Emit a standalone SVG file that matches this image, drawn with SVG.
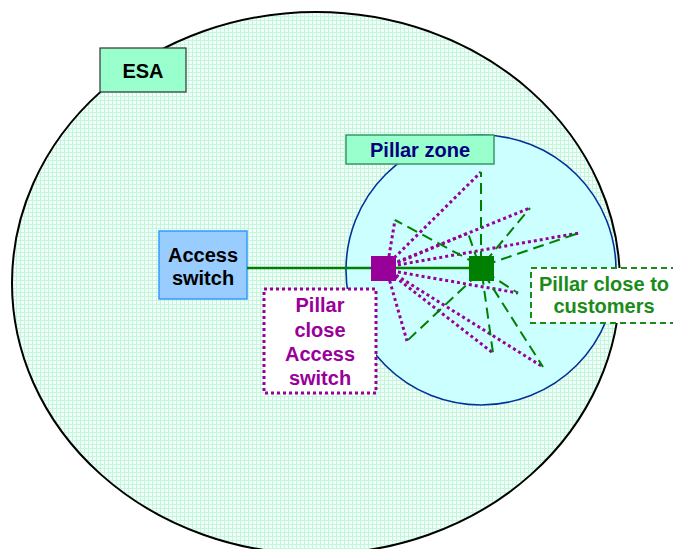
<svg xmlns="http://www.w3.org/2000/svg" width="673" height="549" viewBox="0 0 673 549">
  <defs>
    <pattern id="grid" width="4" height="4" patternUnits="userSpaceOnUse">
      <rect width="4" height="4" fill="#f2fff8"/>
      <path d="M0 0.5H4M0.5 0V4" stroke="#c4f6dd" stroke-width="1"/>
    </pattern>
    <style>
      text { font-family: "Liberation Sans", Arial, sans-serif; font-weight: bold; font-size: 20px; text-anchor: middle; }
      .dot { stroke: #990099; stroke-width: 3; stroke-dasharray: 3 3; fill: none; }
      .dash { stroke: #008000; stroke-width: 2; stroke-dasharray: 11 6; fill: none; }
    </style>
  </defs>
  <rect width="673" height="549" fill="#ffffff"/>

  <g id="esa-zone">
    <ellipse cx="316" cy="283" rx="304" ry="271" fill="url(#grid)" stroke="#000000" stroke-width="2"/>
  </g>
  <g id="esa-label">
    <rect x="100" y="48" width="86" height="44" fill="#99ffcc" stroke="#333333" stroke-width="1.2"/>
    <text x="143" y="78" fill="#000000">ESA</text>
  </g>

  <g id="pillar-zone">
    <circle cx="481" cy="270" r="135" fill="#ccffff" stroke="#003399" stroke-width="1.6"/>
  </g>
  <g id="pillar-zone-label">
    <rect x="346" y="135" width="148" height="29" fill="#99ffcc" stroke="#339966" stroke-width="1.5"/>
    <text x="420" y="157" fill="#000080">Pillar zone</text>
  </g>

  <g id="access-switch">
    <rect x="159" y="231" width="88" height="68" fill="#99ccff" stroke="#3399ff" stroke-width="1.5"/>
    <text x="203" y="262" fill="#000000">Access</text>
    <text x="203" y="285" fill="#000000">switch</text>
  </g>

  <g id="connectors">
    <line x1="247" y1="268" x2="481" y2="268" stroke="#008000" stroke-width="2.5"/>
    <line class="dot" x1="390" y1="262" x2="481" y2="172"/>
    <line class="dot" x1="392" y1="264" x2="530" y2="208"/>
    <line class="dot" x1="392" y1="265" x2="468" y2="233"/>
    <line class="dot" x1="392" y1="266" x2="579" y2="233"/>
    <line class="dot" x1="388" y1="262" x2="395" y2="220"/>
    <line class="dot" x1="392" y1="271" x2="518" y2="293"/>
    <line class="dot" x1="390" y1="273" x2="493" y2="353"/>
    <line class="dot" x1="391" y1="272" x2="543" y2="367"/>
    <line class="dot" x1="388" y1="275" x2="407" y2="341"/>
    <line class="dash" x1="481" y1="262" x2="481" y2="172"/>
    <line class="dash" x1="485" y1="262" x2="530" y2="208"/>
    <line class="dash" x1="485" y1="265" x2="579" y2="233"/>
    <line class="dash" x1="477" y1="264" x2="395" y2="220"/>
    <line class="dash" x1="478" y1="262" x2="468" y2="233"/>
    <line class="dash" x1="485" y1="272" x2="518" y2="293"/>
    <line class="dash" x1="482" y1="274" x2="493" y2="353"/>
    <line class="dash" x1="484" y1="274" x2="543" y2="367"/>
    <line class="dash" x1="478" y1="274" x2="407" y2="341"/>
  </g>

  <g id="pillar-access">
    <rect x="371" y="256" width="25" height="25" fill="#990099"/>
  </g>
  <g id="pillar-customers">
    <rect x="469" y="256" width="25" height="25" fill="#008000"/>
  </g>

  <g id="pillar-access-label">
    <rect x="264" y="289" width="112" height="104" fill="#ffffff" stroke="#990099" stroke-width="3" stroke-dasharray="3 3"/>
    <text x="320" y="312" fill="#990099">Pillar</text>
    <text x="320" y="337" fill="#990099">close</text>
    <text x="320" y="361" fill="#990099">Access</text>
    <text x="320" y="385" fill="#990099">switch</text>
  </g>

  <g id="pillar-customers-label">
    <rect x="531" y="268" width="145" height="55" fill="#ffffff" stroke="#1a8c1a" stroke-width="2" stroke-dasharray="6 4"/>
    <text x="604" y="291" fill="#1a8c1a">Pillar close to</text>
    <text x="604" y="313" fill="#1a8c1a">customers</text>
  </g>
</svg>
